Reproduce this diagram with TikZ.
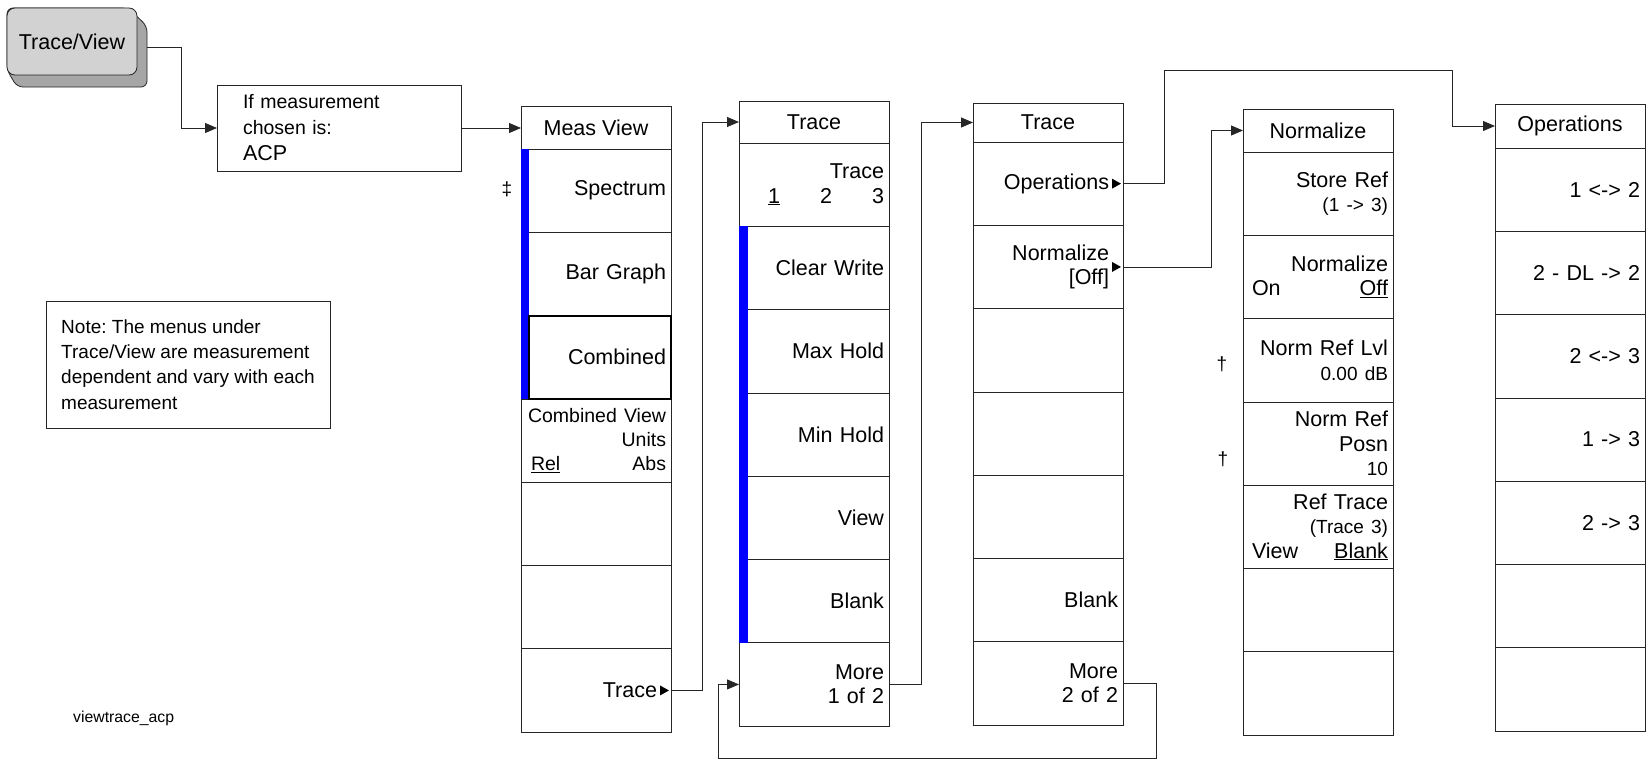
\documentclass[tikz,border=0pt]{standalone}
\usepackage{fontspec}
\setmainfont{Liberation Sans}
\usetikzlibrary{arrows.meta}
\frenchspacing

\newcommand\keyfont{\fontsize{21.5}{24.5}\selectfont}
\newcommand\subfont{\fontsize{19}{24.5}\selectfont}
\newcommand\unitfont{\fontsize{19.5}{23.5}\selectfont}
\newcommand\notefont{\fontsize{19}{25.3}\selectfont}
\newcommand\gap{\rule{9pt}{0pt}}

\tikzset{
  keyline/.style={draw=black!85, line width=0.8pt},
  softkey/.style={keyline, outer sep=0pt, minimum width=150pt, minimum height=83.3pt,
    text width=140pt, inner xsep=5pt, inner ysep=0pt, align=right, font=\keyfont},
  menuhead/.style={keyline, outer sep=0pt, minimum width=150pt, inner sep=0pt,
    align=center, font=\keyfont},
  hardkey/.style={keyline, fill=gray!35, rounded corners=8pt, minimum width=130pt,
    minimum height=67pt, font=\keyfont},
  notebox/.style={keyline, outer sep=0pt, inner ysep=0pt, align=left},
  conn/.style={draw=black!85, line width=0.8pt, -{Triangle[length=12pt,width=10pt]}},
}

% one softkey column: name, left x, top y, header height, title, keys
\newcommand\menucol[6]{%
  \node[menuhead, minimum height=#4pt] (#1-0) at (#2+75, #3+#4/2) {#5};
  \foreach \lab [count=\i] in {#6}
    \node[softkey] (#1-\i) at (#2+75, #3+#4+\i*83.3-41.65) {\lab};
}
\newcommand\subarrow[1]{\fill[black] (#1.east) ++(-2,0) -- ++(-9,-5) -- ++(0,10) -- cycle;}

\begin{document}
\begin{tikzpicture}[x=1pt,y=-1pt]
  \useasboundingbox (0,0) rectangle (1646,760);

  % front panel key
  \draw[keyline, fill=gray!70, rounded corners=6pt] (128,8) -- (147,26) -- (147,87)
     -- (17,87) -- (7,70) -- (7,8) -- cycle;
  \node[hardkey] (tv) at (72,41.5) {Trace/View};
  \coordinate (tvout) at (147,47);

  \node[notebox, text width=192pt, inner xsep=26pt, minimum height=86pt,
    font=\fontsize{19.5}{26}\selectfont] (cond) at (339,128)
    {If measurement\\chosen is:\\{\keyfont ACP}};

  \node[notebox, minimum width=284pt, minimum height=127pt, font=\notefont]
    (note) at (188,364.5)
    {Note: The menus under\\Trace/View are measurement\\dependent and vary with each\\measurement};
  \node[anchor=west, inner sep=0pt, font=\fontsize{15.8}{18}\selectfont] (fname) at (73,718)
    {viewtrace\_acp};

  % menus
  \menucol{mv}{521}{106}{43}{Meas View}{{Spectrum},{Bar Graph},{Combined},
    {\unitfont Combined View\\Units\\\makebox[135pt]{\underline{Rel}\hfill Abs}},{},{},{Trace\gap}}
  \menucol{tr}{739}{101}{42}{Trace}{{Trace\\\makebox[116pt]{\underline{1}\hfill 2\hfill 3}},
    {Clear Write},{Max Hold},{Min Hold},{View},{Blank},{More\\1 of 2}}
  \menucol{tm}{973}{103}{39}{Trace}{{Operations\gap},{Normalize\gap\\{[Off]\gap}},
    {},{},{},{Blank},{More\\2 of 2}}
  \menucol{nm}{1243}{109}{43}{Normalize}{{Store Ref\\{\subfont (1 -> 3)}},
    {Normalize\\\makebox[136pt]{On\hfill\underline{Off}}},
    {Norm Ref Lvl\\{\subfont 0.00 dB}},{Norm Ref\\Posn\\{\subfont 10}},
    {Ref Trace\\{\subfont (Trace 3)}\\\makebox[136pt]{View\hfill\underline{Blank}}},{},{}}
  \menucol{op}{1495}{104}{44}{Operations}{{1 <-> 2},{2 - DL -> 2},{2 <-> 3},{1 -> 3},
    {2 -> 3},{},{}}

  % active selections
  \fill[blue] (mv-1.north west) rectangle ([xshift=8pt]mv-3.south west);
  \fill[blue] (tr-2.north west) rectangle ([xshift=9pt]tr-6.south west);
  \draw[line width=2pt] ([xshift=8pt]mv-3.north west) rectangle (mv-3.south east);

  \subarrow{mv-7}
  \subarrow{tm-1}
  \subarrow{tm-2}

  \node[font=\subfont] (dd) at (507,189) {‡};
  \node[font=\subfont] (d1) at (1222,364) {†};
  \node[font=\subfont] (d2) at (1223,459) {†};

  % connectors
  \draw[conn] (tvout) -- ++(34,0) |- (cond.west);
  \draw[conn] (cond.east) -- (cond.east -| mv-0.west);
  \draw[conn] (mv-7.east) -- ++(31,0) |- (tr-0.west);
  \draw[conn] (tr-7.east) -- ++(32,0) |- (tm-0.west);
  \draw[conn] (tm-1.east) -- ++(41,0) |- (1452,70) |- (op-0.west);
  \draw[conn] (tm-2.east) -- ++(88,0) |- (nm-0.west);
  \draw[conn] (tm-7.east) -- ++(33,0) |- (718,758) |- (tr-7.west);
\end{tikzpicture}
\end{document}
